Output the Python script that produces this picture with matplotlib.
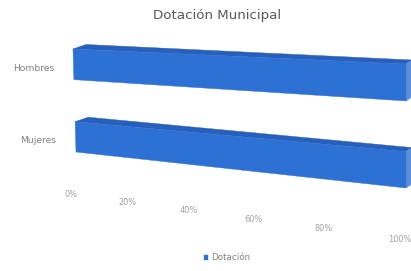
import numpy as np
import matplotlib
matplotlib.use('Agg')
import matplotlib.pyplot as plt
from matplotlib.transforms import Transform, Affine2D

# chart data
title = 'Dotación Municipal'
categories = ['Hombres', 'Mujeres']
values = [100, 100]
series_name = 'Dotación'
tick_values = [0, 20, 40, 60, 80, 100]
tick_labels = ['0%', '20%', '40%', '60%', '80%', '100%']

FRONT_C = '#2E71D4'
TOP_C = '#275FBD'
END_C = '#5B8FDB'
BAR_H = 0.42

# perspective of the front plane: plane corners -> picture pixels
PLANE = [(0, 1 + BAR_H / 2), (100, 1 + BAR_H / 2), (0, -BAR_H / 2), (100, -BAR_H / 2)]
PIXELS = [(73, 49), (406, 64), (76, 152), (406, 188)]
DEPTH_LEFT = np.array([13.0, -4.5])
DEPTH_RIGHT = np.array([6.0, -4.0])


def homography(src, dst):
    rows, rhs = [], []
    for (x, y), (X, Y) in zip(src, dst):
        rows.append([x, y, 1, 0, 0, 0, -X * x, -X * y])
        rhs.append(X)
        rows.append([0, 0, 0, x, y, 1, -Y * x, -Y * y])
        rhs.append(Y)
    h = np.linalg.solve(np.array(rows, float), np.array(rhs, float))
    return np.append(h, 1).reshape(3, 3)


H = homography(PLANE, PIXELS)


def project(u, v, w):
    den = H[2, 0] * u + H[2, 1] * v + H[2, 2]
    px = (H[0, 0] * u + H[0, 1] * v + H[0, 2]) / den
    py = (H[1, 0] * u + H[1, 1] * v + H[1, 2]) / den
    d = DEPTH_LEFT[None, :] + (DEPTH_RIGHT - DEPTH_LEFT)[None, :] * (u / 100)[:, None]
    return np.column_stack([px, py]) + w[:, None] * d


class FaceTransform(Transform):
    """Maps 2D coords of one box face (front / top / end) to picture pixels."""
    input_dims = 2
    output_dims = 2

    def __init__(self, face, fixed=0.0):
        super().__init__()
        self.face = face
        self.fixed = fixed

    def transform_non_affine(self, values):
        a, b = np.asarray(values, float).T
        c = np.full_like(a, self.fixed)
        if self.face == 'front':
            u, v, w = a, b, c
        elif self.face == 'top':
            u, w, v = a, b, c
        else:
            w, v, u = a, b, c
        return project(u, v, w)


fig = plt.figure(figsize=(4.11, 2.71), dpi=100)
ax = fig.add_axes([0, 0, 1, 1])
ax.set_xlim(0, 411)
ax.set_ylim(271, 0)
ax.axis('off')

pos = np.arange(len(categories))[::-1]
front = FaceTransform('front') + ax.transData

for p, val in zip(pos, values):
    ax.barh(0.5, val, height=1, color=TOP_C, lw=0.3, ec=TOP_C,
            transform=FaceTransform('top', p + BAR_H / 2) + ax.transData)
    ax.bar(0.5, BAR_H, bottom=p - BAR_H / 2, width=1, color=END_C, lw=0.3, ec=END_C,
           transform=FaceTransform('end', val) + ax.transData)
bars = ax.barh(pos, values, height=BAR_H, color=FRONT_C, lw=0.3, ec=FRONT_C,
               transform=front, label=series_name)

# category labels
for p, name in zip(pos, categories):
    ax.text(0, p, name, transform=FaceTransform('front') + Affine2D().translate(-19, 4) + ax.transData,
            ha='right', va='center', fontsize=6.6, color='#808080')

# value axis labels along the floor
for t, lab in zip(tick_values, tick_labels):
    ax.text(t, -0.8, lab, transform=FaceTransform('front') + Affine2D().translate(-6, 0.5) + ax.transData,
            ha='center', va='center', fontsize=5.9, color='#a0a0a0')

ax.text(217, 15, title, ha='center', va='center', fontsize=9.6, color='#595959')

ax.legend(handles=[bars], loc='center', bbox_to_anchor=(227 / 411, 1 - 258 / 271),
          frameon=False, fontsize=6.3, handlelength=0.5, handleheight=0.5,
          handletextpad=0.3, labelcolor='#808080')

fig.savefig('out.png', dpi=100, facecolor='white')
